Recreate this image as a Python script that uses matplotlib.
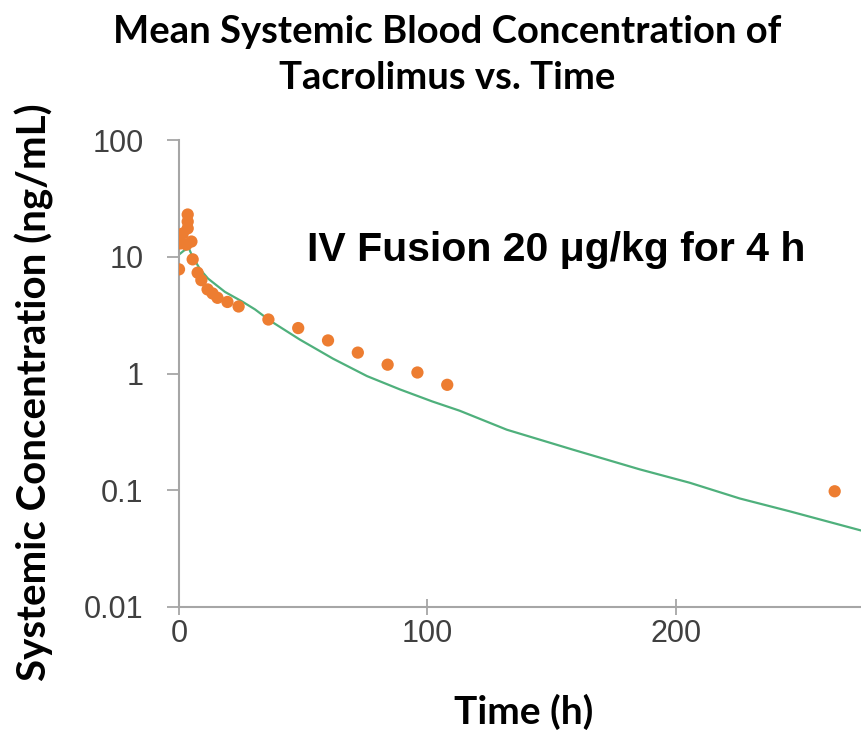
import matplotlib
matplotlib.use("Agg")
import matplotlib.pyplot as plt
from matplotlib.ticker import FixedLocator, FixedFormatter, NullLocator

obs_time = [0, 0.5, 1.5, 3, 3.5, 3.5, 3.5, 5, 5.5, 7.5, 9, 11.5, 13.5, 15.5, 19.5, 24,
            36, 48, 60, 72, 84, 96, 108, 264]
obs_conc = [7.8, 13.0, 15.8, 12.7, 17.5, 20.0, 23.0, 13.5, 9.5, 7.3, 6.3, 5.25, 4.85, 4.45, 4.1, 3.75,
            2.9, 2.45, 1.92, 1.51, 1.19, 1.02, 0.80, 0.098]

# simulated curve
sim_time = [0.4, 2, 4, 5, 6, 8.5, 11.7, 18.5, 25.4, 30.6, 36.6, 48.7, 55.5, 62, 75.7, 89,
            102, 113, 132, 158.5, 185.5, 205.6, 225.8, 245.9, 275]
sim_conc = [10.6, 11.3, 11.8, 10.5, 9.6, 7.8, 6.5, 5.0, 4.14, 3.54, 2.84, 1.95, 1.61, 1.34, 0.95, 0.73,
            0.576, 0.48, 0.33, 0.223, 0.151, 0.116, 0.085, 0.066, 0.045]

y_ticks = [0.01, 0.1, 1, 10, 100]
y_labels = ["0.01", "0.1", "1", "10", "100"]
x_ticks = [0, 100, 200]

axis_gray = "#a6a6a6"
text_gray = "#404040"

fig = plt.figure(figsize=(8.62, 7.3), dpi=100)
ax = fig.add_axes([179/862, 123/730, 683/862, 467/730])

ax.plot(sim_time, sim_conc, color="#4fb07c", lw=1.6, zorder=2)
ax.scatter(obs_time, obs_conc, s=78, color="#ed7d31", edgecolors="none", zorder=3)

ax.set_yscale("log")
ax.set_xlim(0, 275)
ax.set_ylim(0.01, 100)

ax.yaxis.set_major_locator(FixedLocator(y_ticks))
ax.yaxis.set_major_formatter(FixedFormatter(y_labels))
ax.yaxis.set_minor_locator(NullLocator())
ax.xaxis.set_major_locator(FixedLocator(x_ticks))

for s in ["top", "right"]:
    ax.spines[s].set_visible(False)
for s in ["left", "bottom"]:
    ax.spines[s].set_color(axis_gray)
    ax.spines[s].set_linewidth(1.5)

ax.tick_params(axis="y", direction="out", length=8.5, width=1.3, color=axis_gray,
               labelsize=22, labelcolor=text_gray, pad=17)
ax.tick_params(axis="x", direction="inout", length=11, width=1.3, color=axis_gray,
               labelsize=22, labelcolor=text_gray, pad=3)
for lab in ax.get_xticklabels() + ax.get_yticklabels():
    lab.set_family("Liberation Sans")

ax.set_ylabel("Systemic Concentration (ng/mL)", fontsize=29, fontweight="bold",
              family="Lato", color="black", va="center")
ax.yaxis.set_label_coords(-0.211, 0.46)
ax.set_xlabel("Time (h)", fontsize=28, fontweight="bold", family="Lato", color="black",
              va="center")
ax.xaxis.set_label_coords(0.504, -0.225)

ax.text(0.552, 0.764, "IV Fusion 20 μg/kg for 4 h", transform=ax.transAxes,
        ha="center", va="center", fontsize=29.5, fontweight="bold", family="Liberation Sans")

fig.text(447/862, 1 - 32/730, "Mean Systemic Blood Concentration of", ha="center", va="center",
         fontsize=27.5, fontweight="bold", family="Lato")
fig.text(447/862, 1 - 78/730, "Tacrolimus vs. Time", ha="center", va="center",
         fontsize=27.5, fontweight="bold", family="Lato")

fig.savefig("out.png", dpi=100)
